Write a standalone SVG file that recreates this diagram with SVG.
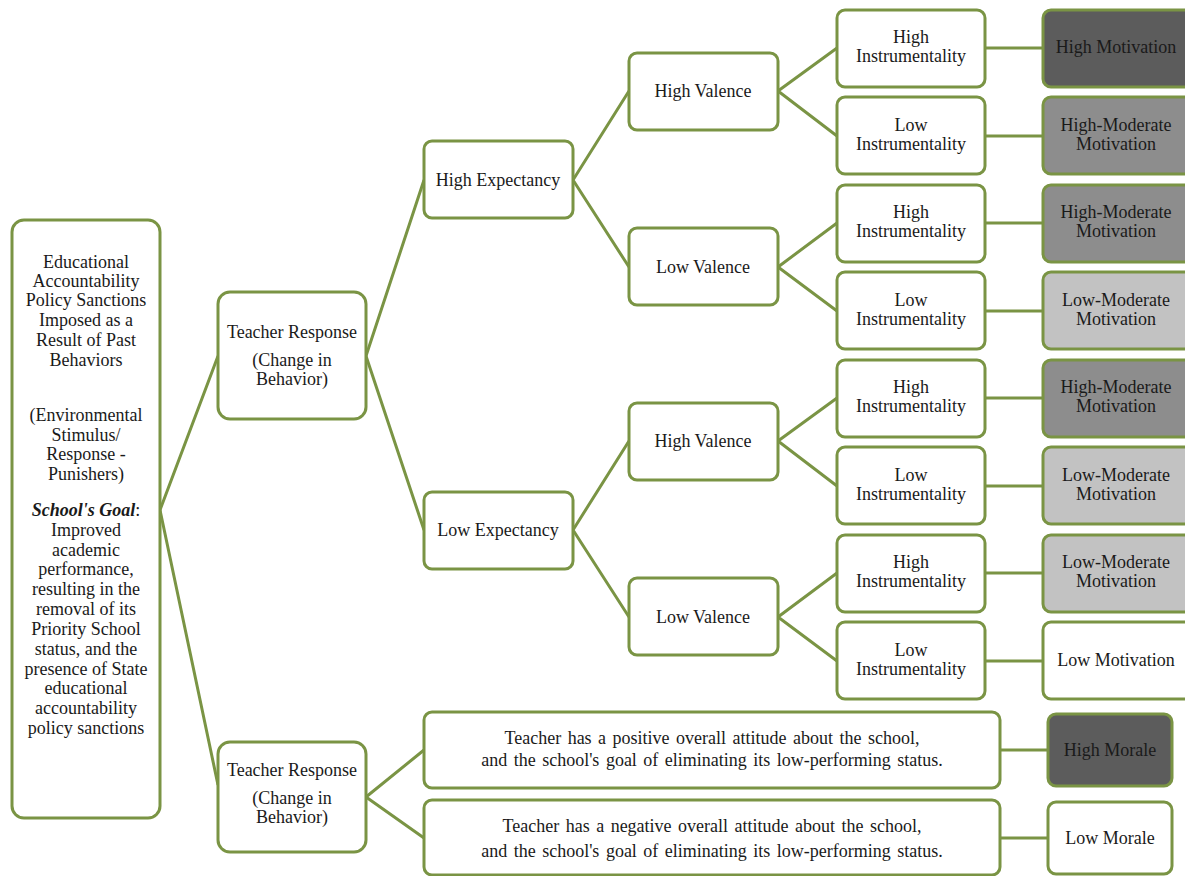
<svg xmlns="http://www.w3.org/2000/svg" width="1185" height="876" viewBox="0 0 1185 876">
<style>
.b{fill:#fff;stroke:#7a9444;stroke-width:3}
.d1{fill:#5c5c5c;stroke:#7a9444;stroke-width:3}
.d2{fill:#8d8d8d;stroke:#7a9444;stroke-width:3}
.d3{fill:#c2c2c2;stroke:#7a9444;stroke-width:3}
.c{stroke:#7a9444;stroke-width:3;fill:none}
</style>
<rect width="1185" height="876" fill="#fff"/>
<g id="connectors">
<path class="c" d="M160,510 L218,356 M160,510 L218,785"/>
<path class="c" d="M366,356 L424,180 M366,356 L424,530"/>
<path class="c" d="M573,180 L629,91 M573,180 L629,267 M573,530 L629,441 M573,530 L629,617"/>
<path class="c" d="M778,91 L837,48 M778,91 L837,136 M778,267 L837,223 M778,267 L837,311 M778,441 L837,398 M778,441 L837,486 M778,617 L837,573 M778,617 L837,661"/>
<path class="c" d="M985,48 H1043 M985,136 H1043 M985,223 H1043 M985,311 H1043 M985,398 H1043 M985,486 H1043 M985,573 H1043 M985,661 H1043"/>
<path class="c" d="M366,797 L424,750 M366,797 L424,838 M1000,750 H1048 M1000,838 H1048"/>
</g>
<g font-family="'Liberation Serif', serif" font-size="18" fill="#1a1a1a" text-anchor="middle">
<g id="n-root"><rect class="b" x="12" y="220" width="148" height="598" rx="12"/>
<text x="86" y="268">Educational</text><text x="86" y="287">Accountability</text><text x="86" y="306">Policy Sanctions</text><text x="86" y="326">Imposed as a</text><text x="86" y="346">Result of Past</text><text x="86" y="366">Behaviors</text>
<text x="86" y="421">(Environmental</text><text x="86" y="441">Stimulus/</text><text x="86" y="460">Response -</text><text x="86" y="480">Punishers)</text>
<text x="86" y="516"><tspan font-weight="bold" font-style="italic">School's Goal</tspan>:</text><text x="86" y="536">Improved</text><text x="86" y="556">academic</text><text x="86" y="575">performance,</text><text x="86" y="595">resulting in the</text><text x="86" y="615">removal of its</text><text x="86" y="635">Priority School</text><text x="86" y="655">status, and the</text><text x="86" y="675">presence of State</text><text x="86" y="694">educational</text><text x="86" y="714">accountability</text><text x="86" y="734">policy sanctions</text>
</g>
<g id="n-tr1"><rect class="b" x="218" y="292" width="148" height="127" rx="12"/><text x="292" y="338">Teacher Response</text><text x="292" y="366">(Change in</text><text x="292" y="385">Behavior)</text></g>
<g id="n-tr2"><rect class="b" x="218" y="742" width="148" height="110" rx="12"/><text x="292" y="776">Teacher Response</text><text x="292" y="804">(Change in</text><text x="292" y="823">Behavior)</text></g>
<g id="n-he"><rect class="b" x="424" y="141" width="149" height="77" rx="8"/><text x="498" y="186">High Expectancy</text></g>
<g id="n-le"><rect class="b" x="424" y="492" width="149" height="77" rx="8"/><text x="498" y="536">Low Expectancy</text></g>
<g id="n-hv1"><rect class="b" x="629" y="53" width="149" height="77" rx="8"/><text x="703" y="97">High Valence</text></g>
<g id="n-lv1"><rect class="b" x="629" y="228" width="149" height="77" rx="8"/><text x="703" y="273">Low Valence</text></g>
<g id="n-hv2"><rect class="b" x="629" y="403" width="149" height="77" rx="8"/><text x="703" y="447">High Valence</text></g>
<g id="n-lv2"><rect class="b" x="629" y="578" width="149" height="77" rx="8"/><text x="703" y="623">Low Valence</text></g>
<g id="n-i1"><rect class="b" x="837" y="10" width="148" height="77" rx="8"/><text x="911" y="43">High</text><text x="911" y="62">Instrumentality</text></g>
<g id="n-i2"><rect class="b" x="837" y="97" width="148" height="77" rx="8"/><text x="911" y="131">Low</text><text x="911" y="150">Instrumentality</text></g>
<g id="n-i3"><rect class="b" x="837" y="185" width="148" height="77" rx="8"/><text x="911" y="218">High</text><text x="911" y="237">Instrumentality</text></g>
<g id="n-i4"><rect class="b" x="837" y="272" width="148" height="77" rx="8"/><text x="911" y="306">Low</text><text x="911" y="325">Instrumentality</text></g>
<g id="n-i5"><rect class="b" x="837" y="360" width="148" height="77" rx="8"/><text x="911" y="393">High</text><text x="911" y="412">Instrumentality</text></g>
<g id="n-i6"><rect class="b" x="837" y="447" width="148" height="77" rx="8"/><text x="911" y="481">Low</text><text x="911" y="500">Instrumentality</text></g>
<g id="n-i7"><rect class="b" x="837" y="535" width="148" height="77" rx="8"/><text x="911" y="568">High</text><text x="911" y="587">Instrumentality</text></g>
<g id="n-i8"><rect class="b" x="837" y="622" width="148" height="77" rx="8"/><text x="911" y="656">Low</text><text x="911" y="675">Instrumentality</text></g>
<g id="n-o1"><rect class="d1" x="1043" y="10" width="150" height="77" rx="8"/><text x="1116" y="53">High Motivation</text></g>
<g id="n-o2"><rect class="d2" x="1043" y="97" width="150" height="77" rx="8"/><text x="1116" y="131">High-Moderate</text><text x="1116" y="150">Motivation</text></g>
<g id="n-o3"><rect class="d2" x="1043" y="185" width="150" height="77" rx="8"/><text x="1116" y="218">High-Moderate</text><text x="1116" y="237">Motivation</text></g>
<g id="n-o4"><rect class="d3" x="1043" y="272" width="150" height="77" rx="8"/><text x="1116" y="306">Low-Moderate</text><text x="1116" y="325">Motivation</text></g>
<g id="n-o5"><rect class="d2" x="1043" y="360" width="150" height="77" rx="8"/><text x="1116" y="393">High-Moderate</text><text x="1116" y="412">Motivation</text></g>
<g id="n-o6"><rect class="d3" x="1043" y="447" width="150" height="77" rx="8"/><text x="1116" y="481">Low-Moderate</text><text x="1116" y="500">Motivation</text></g>
<g id="n-o7"><rect class="d3" x="1043" y="535" width="150" height="77" rx="8"/><text x="1116" y="568">Low-Moderate</text><text x="1116" y="587">Motivation</text></g>
<g id="n-o8"><rect class="b" x="1043" y="622" width="150" height="77" rx="8"/><text x="1116" y="666">Low Motivation</text></g>
<g id="n-pos" word-spacing="2"><rect class="b" x="424" y="712" width="576" height="76" rx="8"/><text x="712" y="744">Teacher has a positive overall attitude about the school,</text><text x="712" y="766">and the school's goal of eliminating its low-performing status.</text></g>
<g id="n-neg" word-spacing="2"><rect class="b" x="424" y="800" width="576" height="75" rx="8"/><text x="712" y="832">Teacher has a negative overall attitude about the school,</text><text x="712" y="857">and the school's goal of eliminating its low-performing status.</text></g>
<g id="n-hm"><rect class="d1" x="1048" y="714" width="124" height="72" rx="8"/><text x="1110" y="756">High Morale</text></g>
<g id="n-lm"><rect class="b" x="1048" y="802" width="124" height="72" rx="8"/><text x="1110" y="844">Low Morale</text></g>
</g>
</svg>
